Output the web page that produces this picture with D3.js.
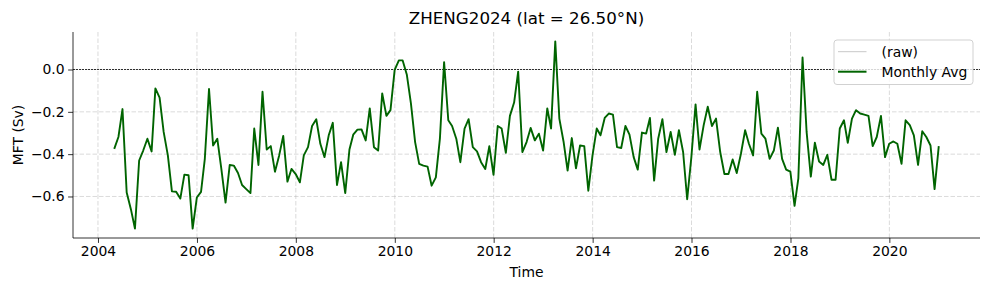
<!DOCTYPE html>
<html>
<head>
<meta charset="utf-8">
<script src="https://cdn.jsdelivr.net/npm/d3@7"></script>
<style>
  body { margin: 0; background: #fff; }
  text { font-family: "DejaVu Sans", sans-serif; fill: #000; }
</style>
</head>
<body>
<div id="chart"></div>
<script>
// monthly means, first value is April 2004 (month-end stamps)
const firstMonth = new Date(2004, 3, 1);
const monthlyAvg = [
  -0.375, -0.319, -0.187, -0.581, -0.660, -0.752, -0.430, -0.383, -0.327,
  -0.387, -0.089, -0.133, -0.295, -0.406, -0.576, -0.578, -0.610, -0.497, -0.500, -0.752, -0.605,
  -0.578, -0.422, -0.092, -0.359, -0.327, -0.470, -0.629, -0.451, -0.454, -0.489, -0.546, -0.565,
  -0.584, -0.279, -0.451, -0.105, -0.378, -0.362, -0.483, -0.406, -0.314, -0.530, -0.470, -0.494,
  -0.533, -0.406, -0.367, -0.267, -0.235, -0.351, -0.414, -0.311, -0.252, -0.546, -0.438, -0.584,
  -0.378, -0.308, -0.284, -0.283, -0.335, -0.184, -0.367, -0.383, -0.113, -0.219, -0.192, -0.002,
  0.043, 0.043, -0.025, -0.160, -0.343, -0.446, -0.454, -0.459, -0.549, -0.510, -0.327, 0.035,
  -0.240, -0.267, -0.327, -0.438, -0.279, -0.235, -0.367, -0.387, -0.438, -0.470, -0.362, -0.498,
  -0.267, -0.279, -0.394, -0.219, -0.156, -0.010, -0.390, -0.343, -0.276, -0.335, -0.303, -0.383,
  -0.184, -0.279, 0.133, -0.232, -0.340, -0.478, -0.324, -0.467, -0.359, -0.362, -0.573, -0.406,
  -0.279, -0.311, -0.229, -0.208, -0.213, -0.367, -0.371, -0.267, -0.308, -0.414, -0.473, -0.298,
  -0.303, -0.229, -0.525, -0.327, -0.235, -0.390, -0.295, -0.403, -0.287, -0.390, -0.613, -0.414,
  -0.165, -0.378, -0.263, -0.176, -0.267, -0.232, -0.390, -0.494, -0.494, -0.425, -0.489, -0.398,
  -0.287, -0.351, -0.406, -0.105, -0.303, -0.327, -0.422, -0.383, -0.275, -0.422, -0.473, -0.483,
  -0.644, -0.514, 0.057, -0.295, -0.506, -0.346, -0.435, -0.451, -0.403, -0.521, -0.521, -0.279,
  -0.240, -0.346, -0.232, -0.192, -0.208, -0.213, -0.219, -0.362, -0.319, -0.219, -0.414, -0.351,
  -0.340, -0.351, -0.446, -0.240, -0.263, -0.311, -0.451, -0.292, -0.319, -0.359, -0.565, -0.362
];
const xTickYears = [2004, 2006, 2008, 2010, 2012, 2014, 2016, 2018, 2020];
const yTickValues = [0.0, -0.2, -0.4, -0.6];
const legendLabels = ["(raw)", "Monthly Avg"];
const titleText = "ZHENG2024 (lat = 26.50°N)";

const width = 990, height = 290;
const margin = { top: 32, right: 10, bottom: 52, left: 73 };
const lineColor = "#006400";

// month-end dates like pandas resample("M")
const data = monthlyAvg.map(function (v, i) {
  const d = d3.timeMonth.offset(firstMonth, i + 1);
  return { date: new Date(d.getTime() - 864e5), value: v };
});

const svg = d3.select("#chart")
  .append("svg")
  .attr("width", width)
  .attr("height", height);

// 5% padding like matplotlib autoscale
const xExt = d3.extent(data, d => d.date.getTime());
const xPad = (xExt[1] - xExt[0]) * 0.05;
const x = d3.scaleTime()
  .domain([new Date(xExt[0] - xPad), new Date(xExt[1] + xPad)])
  .range([margin.left, width - margin.right]);

const yExt = d3.extent(data, d => d.value);
const yPad = (yExt[1] - yExt[0]) * 0.05;
const y = d3.scaleLinear()
  .domain([yExt[0] - yPad, yExt[1] + yPad])
  .range([height - margin.bottom, margin.top]);

const xTicks = xTickYears.map(yr => new Date(yr, 0, 1));

// grid
svg.append("g")
  .selectAll("line")
  .data(xTicks)
  .join("line")
  .attr("x1", d => x(d)).attr("x2", d => x(d))
  .attr("y1", margin.top).attr("y2", height - margin.bottom)
  .attr("stroke", "#b0b0b0")
  .attr("stroke-opacity", 0.5)
  .attr("stroke-dasharray", "4.5,2")
  .attr("stroke-width", 0.9);

svg.append("g")
  .selectAll("line")
  .data(yTickValues)
  .join("line")
  .attr("x1", margin.left).attr("x2", width - margin.right)
  .attr("y1", d => y(d)).attr("y2", d => y(d))
  .attr("stroke", "#b0b0b0")
  .attr("stroke-opacity", 0.5)
  .attr("stroke-dasharray", "4.5,2")
  .attr("stroke-width", 0.9);

// zero reference
svg.append("line")
  .attr("x1", margin.left).attr("x2", width - margin.right)
  .attr("y1", y(0)).attr("y2", y(0))
  .attr("stroke", "#000")
  .attr("stroke-width", 0.8)
  .attr("stroke-dasharray", "2,1");

const line = d3.line()
  .x(d => x(d.date))
  .y(d => y(d.value));

svg.append("path")
  .datum(data)
  .attr("fill", "none")
  .attr("stroke", lineColor)
  .attr("stroke-width", 1.9)
  .attr("stroke-linejoin", "round")
  .attr("d", line);

// axes
const xAxis = svg.append("g")
  .attr("transform", `translate(0,${height - margin.bottom})`)
  .call(d3.axisBottom(x).tickValues(xTicks).tickFormat(d3.timeFormat("%Y")).tickSize(4.9).tickPadding(3.5));

const yAxis = svg.append("g")
  .attr("transform", `translate(${margin.left},0)`)
  .call(d3.axisLeft(y).tickValues(yTickValues).tickFormat(d => d3.format(".1f")(d).replace("-", "\u2212")).tickSize(4.9).tickPadding(3.5));

xAxis.select(".domain").attr("stroke", "#000").attr("stroke-width", 0.8)
  .attr("d", `M${margin.left},0H${width - margin.right}`);
yAxis.select(".domain").attr("stroke", "#000").attr("stroke-width", 0.8)
  .attr("d", `M0,${margin.top}V${height - margin.bottom}`);
svg.selectAll(".tick line").attr("stroke", "#000").attr("stroke-width", 0.8);
svg.selectAll(".tick text")
  .attr("font-family", "DejaVu Sans")
  .attr("font-size", "13.9px")
  .attr("fill", "#000");

// labels
svg.append("text")
  .attr("x", (margin.left + width - margin.right) / 2)
  .attr("y", 24)
  .attr("text-anchor", "middle")
  .attr("font-size", "16.7px")
  .text(titleText);

svg.append("text")
  .attr("x", (margin.left + width - margin.right) / 2)
  .attr("y", 277)
  .attr("text-anchor", "middle")
  .attr("font-size", "13.9px")
  .text("Time");

svg.append("text")
  .attr("transform", `translate(23,${(margin.top + height - margin.bottom) / 2}) rotate(-90)`)
  .attr("text-anchor", "middle")
  .attr("font-size", "13.9px")
  .text("MFT (Sv)");

// legend
const legend = svg.append("g").attr("transform", "translate(834,40)");
legend.append("rect")
  .attr("width", 139)
  .attr("height", 44.5)
  .attr("rx", 3)
  .attr("fill", "#fff")
  .attr("fill-opacity", 0.8)
  .attr("stroke", "#cccccc")
  .attr("stroke-width", 0.9);

const legendStyles = [
  { color: "#c8c8c8", w: 1 },
  { color: lineColor, w: 2 }
];
legendLabels.forEach(function (lbl, i) {
  const ly = 11.7 + i * 20;
  legend.append("line")
    .attr("x1", 4).attr("x2", 32.5)
    .attr("y1", ly).attr("y2", ly)
    .attr("stroke", legendStyles[i].color)
    .attr("stroke-width", legendStyles[i].w);
  legend.append("text")
    .attr("x", 47.5)
    .attr("y", ly + 5)
    .attr("font-size", "13.9px")
    .text(lbl);
});
</script>
</body>
</html>
